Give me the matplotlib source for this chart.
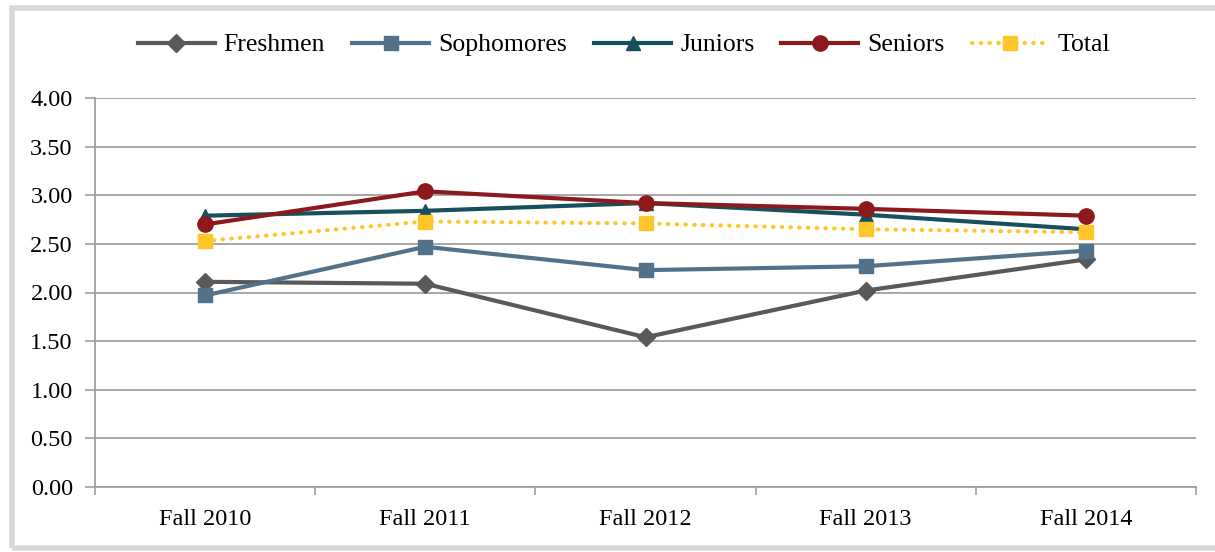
import matplotlib
matplotlib.use("Agg")
import matplotlib.pyplot as plt
from matplotlib.patches import Rectangle

categories = ["Fall 2010", "Fall 2011", "Fall 2012", "Fall 2013", "Fall 2014"]
freshmen = [2.11, 2.09, 1.54, 2.02, 2.34]
sophomores = [1.97, 2.47, 2.23, 2.27, 2.43]
juniors = [2.79, 2.84, 2.92, 2.80, 2.65]
seniors = [2.70, 3.04, 2.92, 2.86, 2.79]
total = [2.53, 2.73, 2.71, 2.65, 2.62]
yticks = [0.0, 0.5, 1.0, 1.5, 2.0, 2.5, 3.0, 3.5, 4.0]

plt.rcParams['font.family'] = ['Liberation Serif', 'DejaVu Serif']
FS = 17.5
LFS = 18.5

W, H = 1215, 552
fig = plt.figure(figsize=(W/100, H/100), dpi=100)
ax = fig.add_axes([95/W, (H-487)/H, (1196-95)/W, (487-98)/H])

# outer border
fig.patches.append(Rectangle((12/W, 4/H), (W+40)/W, (H-12)/H, transform=fig.transFigure,
                             fill=False, edgecolor='#d9d9d9', linewidth=4, zorder=0))

x = list(range(len(categories)))
lw = 3
ms = 10
ax.plot(x, freshmen, color='#595959', lw=lw, marker='D', ms=ms*0.9, label='Freshmen', zorder=3)
ax.plot(x, sophomores, color='#51728a', lw=lw, marker='s', ms=ms, label='Sophomores', zorder=4)
ax.plot(x, juniors, color='#17505c', lw=lw, marker='^', ms=ms, label='Juniors', zorder=5)
ax.plot(x, seniors, color='#8c1a1d', lw=lw, marker='o', ms=ms+1, label='Seniors', zorder=6)
ax.plot(x, total, color='#ffc62a', lw=lw, linestyle=(0, (0.1, 2.0)), dash_capstyle='round',
        marker='s', ms=ms, label='Total', zorder=7)

ax.set_xlim(-0.5, len(categories) - 0.5)
ax.set_ylim(0, 4.0)
ax.set_yticks(yticks)
ax.set_yticklabels([f"{v:.2f}" for v in yticks], fontsize=FS)
ax.set_xticks(x)
ax.set_xticklabels(categories, fontsize=FS)
ax.set_xticks([i - 0.5 for i in range(len(categories) + 1)], minor=True)
ax.tick_params(axis='x', which='major', length=0, pad=16)
ax.tick_params(axis='x', which='minor', length=6, width=1.2, color='#a0a0a0')
ax.tick_params(axis='y', length=7, width=1.2, color='#a0a0a0', pad=9)
ax.grid(axis='y', color='#a0a0a0', lw=1.3)
ax.set_axisbelow(True)
for s in ['top', 'right']:
    ax.spines[s].set_visible(False)
for s in ['left', 'bottom']:
    ax.spines[s].set_color('#a0a0a0')
    ax.spines[s].set_linewidth(1.3)

leg = fig.legend(loc='center', bbox_to_anchor=(624/W, 1 - 45/H), ncol=5, frameon=False,
                 fontsize=LFS, handlelength=3.0, handletextpad=0.35, columnspacing=1.05)

fig.savefig('out.png', dpi=100)
